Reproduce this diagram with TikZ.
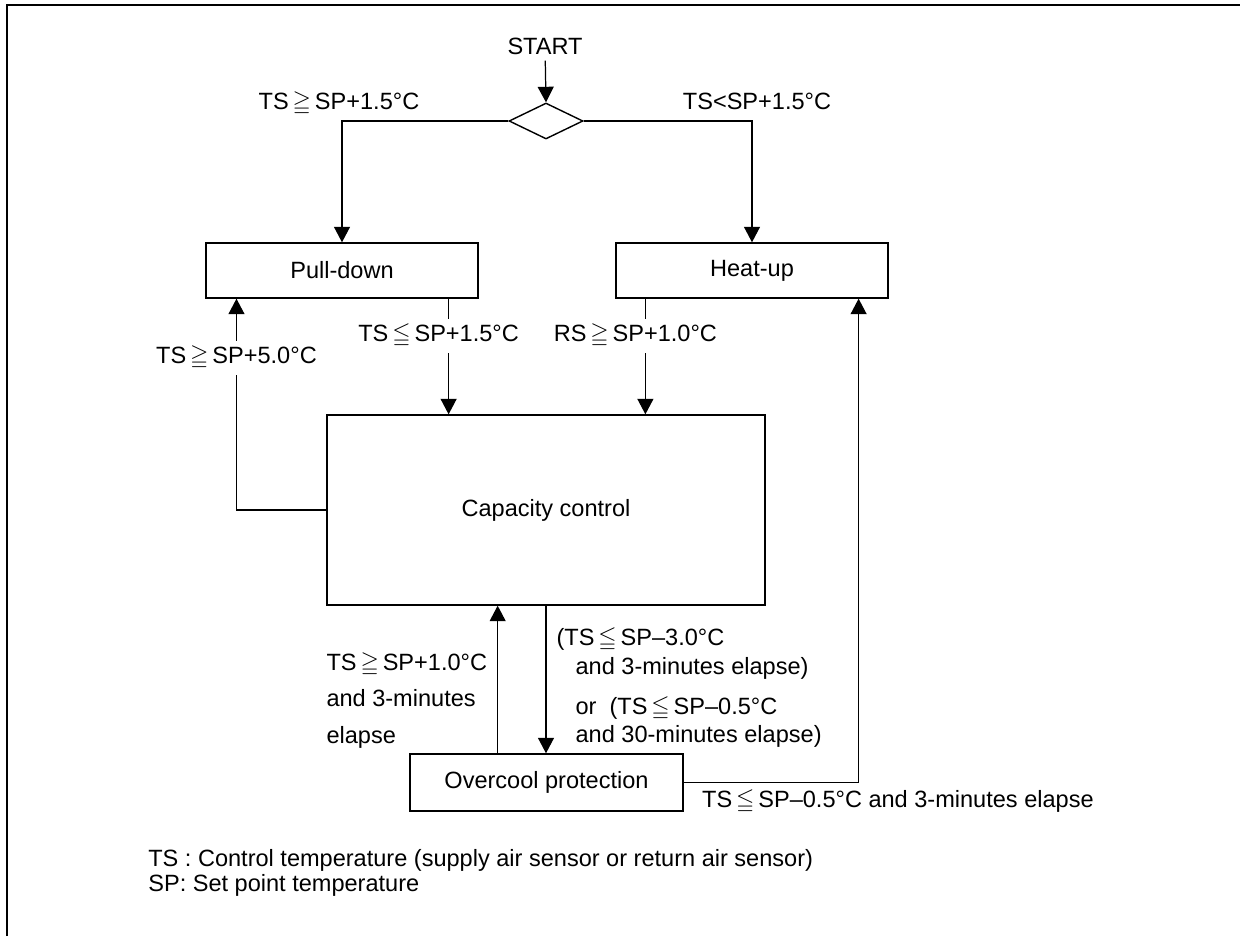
\documentclass[tikz,border=0pt]{standalone}
\usepackage{amssymb}
\usepackage{fontspec}
\setmainfont{Liberation Sans}
\usetikzlibrary{arrows.meta,calc,positioning,shapes.geometric}
\newcommand\mayor{\,$\geqq$\,}
\newcommand\menor{\,$\leqq$\,}
\tikzset{
  caja/.style={
    draw,
    line width=0.8pt,
    minimum width=5.44cm,
    minimum height=1.1cm,
    inner sep=0pt
  },
  decision/.style={
    diamond,
    draw,
    line width=0.8pt,
    inner sep=0pt,
    minimum width=1.48cm,
    minimum height=0.72cm
  },
  etiqueta/.style={
    fill=white,
    inner xsep=1pt,
    inner ysep=3pt
  },
  nota/.style={
    inner sep=0pt,
    align=left
  },
  arrow/.style={
    -{Triangle[length=3.1mm,width=3.2mm]},
    line width=0.7pt
  }
}

\begin{document}
\begin{tikzpicture}[x=0.02cm, y=-0.02cm, font=\fontsize{13.4}{16}\selectfont]
\useasboundingbox (0,0) rectangle (1240,936);
\draw[line width=1.3pt] (7,936) -- (7,5) -- (1240,5);

\node (ini) at (545,46) {START};
\node[decision] (dec) at (546,121) {};
\node[caja] (pd) at (342,270.5) {Pull-down};
\node[caja] (hu) at (752,270.5) {Heat-up};
\node[caja, minimum width=8.76cm, minimum height=3.8cm] (cc) at (546,510) {Capacity control};
\node[caja, minimum width=5.46cm, minimum height=1.14cm] (oc) at (546.5,782.5) {Overcool protection};

\draw[arrow] (ini) -- (dec.north);
\draw[arrow] (dec.west) -| node[pos=0.5, anchor=base, yshift=2.4mm, xshift=-0.6mm] {TS\mayor SP+1.5°C} (pd.north);
\draw[arrow] (dec.east) -| node[pos=0.5, anchor=base, yshift=2.4mm, xshift=1mm] {TS<SP+1.5°C} (hu.north);

\draw[arrow] ($(pd.south west)!0.89!(pd.south east)$) coordinate (pd1) -- node[etiqueta, pos=0.32, xshift=-2mm] {TS\menor SP+1.5°C} (pd1 |- cc.north);
\draw[arrow] ($(hu.south west)!0.11!(hu.south east)$) coordinate (hu1) -- node[etiqueta, pos=0.32, xshift=-2mm] {RS\mayor SP+1.0°C} (hu1 |- cc.north);
\draw[arrow] (cc.west) -| node[etiqueta, pos=0.86] {TS\mayor SP+5.0°C} ($(pd.south west)!0.114!(pd.south east)$);

\draw[arrow] (cc.south) -- node[nota, anchor=north west, pos=0.148, xshift=2mm] {(TS\menor SP–3.0°C\\
\hspace*{3.8mm}and 3-minutes elapse)\\[6.8pt]
\hspace*{3.8mm}or\ \ (TS\menor SP–0.5°C\\
\hspace*{3.8mm}and 30-minutes elapse)} (cc.south |- oc.north);
\draw[arrow] ($(oc.north west)!0.322!(oc.north east)$) coordinate (oc1) -- node[nota, anchor=north east, pos=0.685, xshift=-2mm, font=\fontsize{13.4}{20.7}\selectfont] {TS\mayor SP+1.0°C\\and 3-minutes\\elapse} (oc1 |- cc.south);
\draw[arrow] (oc.east) -| node[pos=0, anchor=base west, xshift=2.4mm, yshift=-5mm] {TS\menor SP–0.5°C and 3-minutes elapse} ($(hu.south west)!0.89!(hu.south east)$);

\node[nota, anchor=base west] (n1) at (148,866) {TS : Control temperature (supply air sensor or return air sensor)};
\node[nota, anchor=base west] (n2) at (148,891) {SP: Set point temperature};
\end{tikzpicture}
\end{document}
